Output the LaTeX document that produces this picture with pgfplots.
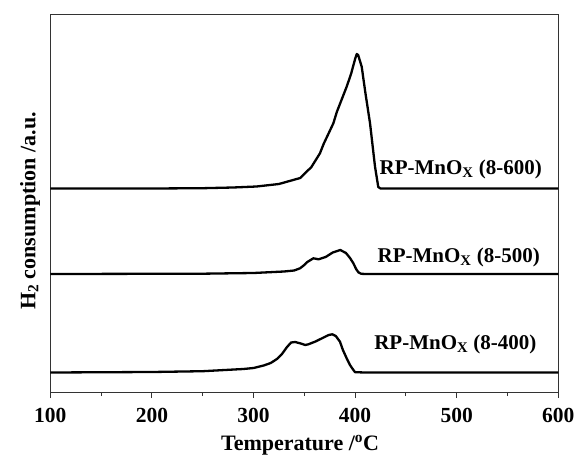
\documentclass[border=0pt]{standalone}
\usepackage{fontspec}
\setmainfont{Liberation Serif}
\usepackage{pgfplots}
\pgfplotsset{compat=1.18}
\definecolor{axisgray}{HTML}{333333}
\begin{document}
\fontsize{21}{25}\selectfont
\begin{tikzpicture}
\begin{axis}[
  scale only axis,
  width=508pt, height=378pt,
  xmin=100, xmax=600, ymin=0, ymax=378,
  clip=false,
  axis line style={axisgray, line width=0.9pt},
  xtick={100,200,300,400,500,600},
  minor xtick={150,250,350,450,550},
  xtick pos=bottom,
  tick align=outside,
  major tick length=6pt,
  minor tick length=4pt,
  every tick/.style={axisgray, line width=0.9pt},
  ytick=\empty,
  /pgf/number format/assume math mode=true,
  xticklabel style={font=\fontsize{21.5}{25}\selectfont\bfseries, anchor=base, yshift=-24pt},
]
\addplot[black, line width=2.3pt, line join=round] coordinates {
(100,203.5) (200,203.5) (250,203.8) (280,204.5) (303,205.5) (325,208) (346,214) (357,225)
(365.4,238.7) (369,248) (378.6,268.7) (382,280) (391.7,305.3) (396,318) (400,333) (401.6,338)
(403,337) (406.5,325.3) (410,300) (414.7,268.7) (419.6,225.3) (422.8,205) (425,203.5) (600,203.5)
};
\addplot[black, line width=2.3pt, line join=round] coordinates {
(100,118) (250,118.3) (300,119) (330,120.5) (340,121.5) (345.8,123.7) (350,127) (353,130)
(358.9,133.7) (364,132.7) (371,135) (378,139.5) (385.4,142) (391,139) (395,134) (398.3,128.7)
(401,123) (403.2,119.7) (406,118.2) (411,118) (600,118)
};
\addplot[black, line width=2.3pt, line join=round] coordinates {
(100,19.5) (200,20) (250,20.8) (290,23) (300,24) (310,26.5) (317,29) (323,33) (328,38) (333,45)
(337,49.5) (341,50) (345.8,48.7) (351,47) (354,47.7) (361,50.5) (368,54) (374,57) (377.6,57.7)
(381,56) (385.1,50.3) (388,42) (391.7,33.7) (395,27) (398.3,22) (400,19.8) (410,19.5) (600,19.5)
};
\node[anchor=base east, font=\bfseries] at (axis cs:590.8,217.5) {RP-MnO\textsubscript{X} (8-600)};
\node[anchor=base east, font=\bfseries] at (axis cs:588.9,130) {RP-MnO\textsubscript{X} (8-500)};
\node[anchor=base east, font=\bfseries] at (axis cs:585.6,43) {RP-MnO\textsubscript{X} (8-400)};
\node[anchor=base, font=\fontsize{22}{26}\selectfont\bfseries] at (axis cs:345.8,-58) {Temperature /\textsuperscript{o}C};
\node[anchor=base, rotate=90, font=\fontsize{22}{26}\selectfont\bfseries] at (axis cs:85.2,181) {H\textsubscript{2} consumption /a.u.};
\end{axis}
\pgfresetboundingbox
\path ([xshift=-50.3pt,yshift=-63pt]current axis.south west) rectangle ([xshift=15.7pt,yshift=14pt]current axis.north east);
\end{tikzpicture}
\end{document}
